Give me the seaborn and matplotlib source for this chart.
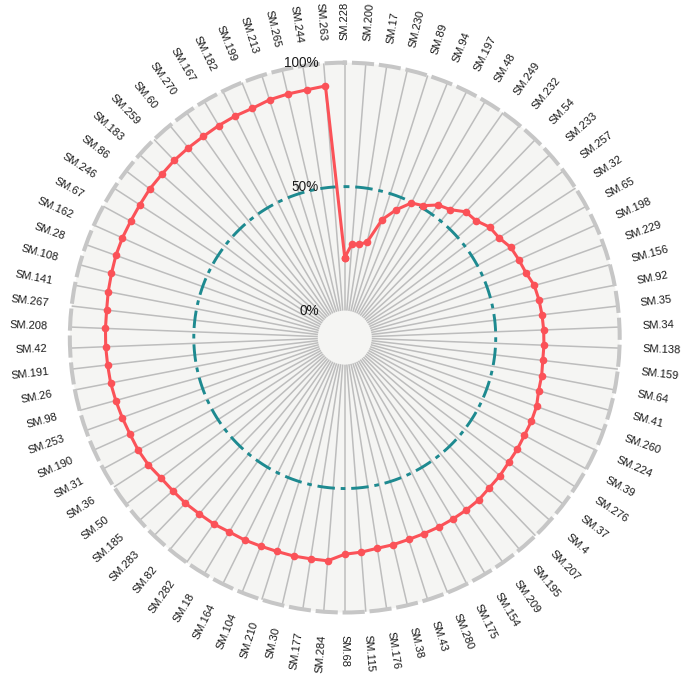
import numpy as np
import pandas as pd
import seaborn as sns
import matplotlib.pyplot as plt
from matplotlib.patches import Circle
from matplotlib.transforms import offset_copy

# ---------- data (clockwise from the top) ----------
samples = ["SM.228", "SM.200", "SM.17", "SM.230", "SM.89", "SM.94", "SM.197", "SM.48",
           "SM.249", "SM.232", "SM.54", "SM.233", "SM.257", "SM.32", "SM.65", "SM.198",
           "SM.229", "SM.156", "SM.92", "SM.35", "SM.34", "SM.138", "SM.159", "SM.64",
           "SM.41", "SM.260", "SM.224", "SM.39", "SM.276", "SM.37", "SM.4", "SM.207",
           "SM.195", "SM.209", "SM.154", "SM.175", "SM.280", "SM.43", "SM.38", "SM.176",
           "SM.115", "SM.68", "SM.284", "SM.177", "SM.30", "SM.210", "SM.104", "SM.164",
           "SM.18", "SM.282", "SM.82", "SM.283", "SM.185", "SM.50", "SM.36", "SM.31",
           "SM.190", "SM.253", "SM.98", "SM.26", "SM.191", "SM.42", "SM.208", "SM.267",
           "SM.141", "SM.108", "SM.28", "SM.162", "SM.67", "SM.246", "SM.86", "SM.183",
           "SM.259", "SM.60", "SM.270", "SM.167", "SM.182", "SM.199", "SM.213", "SM.265",
           "SM.244", "SM.263"]

cum_share = [0.214, 0.270, 0.271, 0.287, 0.390, 0.447, 0.497, 0.510, 0.545, 0.560,
             0.595, 0.600, 0.626, 0.632, 0.653, 0.660, 0.667, 0.684, 0.689, 0.692,
             0.694, 0.695, 0.695, 0.700, 0.702, 0.713, 0.716, 0.716, 0.720, 0.722,
             0.729, 0.732, 0.740, 0.742, 0.743, 0.744, 0.744, 0.745, 0.749, 0.751,
             0.759, 0.765, 0.794, 0.794, 0.796, 0.796, 0.798, 0.802, 0.803, 0.810,
             0.813, 0.818, 0.820, 0.824, 0.835, 0.840, 0.841, 0.845, 0.849, 0.853,
             0.854, 0.856, 0.857, 0.858, 0.863, 0.867, 0.872, 0.874, 0.874, 0.876,
             0.880, 0.880, 0.883, 0.883, 0.883, 0.886, 0.888, 0.888, 0.897, 0.900,
             0.902, 0.909]

r_ticks = [0, 0.5, 1.0]
r_labels = ["0%", "50%", "100%"]

RED = "#FB5258"
TEAL = "#1E8A90"
PANEL = "#F5F5F3"
HOLE = 0.109

plt.rcParams["font.family"] = ["Liberation Sans", "DejaVu Sans"]

n = len(samples)
theta = np.arange(n) * 2 * np.pi / n
df = pd.DataFrame({"theta": theta, "value": cum_share, "sample": samples})
# close the loop back to the first sample
df_loop = pd.concat([df, df.iloc[[0]].assign(theta=2 * np.pi)], ignore_index=True)

fig = plt.figure(figsize=(6.85, 6.78), dpi=100)
ax = fig.add_axes([0.1018, 0.0966, 0.803, 0.811], projection="polar")
ax.set_theta_zero_location("N")
ax.set_theta_direction(-1)
ax.set_facecolor(PANEL)

# fill the centre hole with the panel colour
ax.add_patch(Circle((0.5, 0.5), 0.5 * HOLE / (1 + HOLE) + 0.002, transform=ax.transAxes,
                    facecolor=PANEL, edgecolor="none", clip_on=False, zorder=0.2))

# 50% reference ring
ring = np.linspace(0, 2 * np.pi, 400)
ax.plot(ring, np.full_like(ring, 0.5), color=TEAL, lw=2.1,
        linestyle=(0, (1.6, 2.0, 6.0, 2.0)), zorder=2)

sns.lineplot(data=df_loop, x="theta", y="value", ax=ax, sort=False, estimator=None,
             color=RED, lw=2.2, marker="o", markersize=5.5, markeredgewidth=0, zorder=3)

ax.set_ylim(0, 1.0)
ax.set_rorigin(-HOLE)
ax.set_xticks(theta)
ax.set_xticklabels([])
ax.set_yticks(r_ticks)
ax.set_yticklabels([])
ax.xaxis.grid(True, color="#BDBDBD", lw=1.1)
ax.yaxis.grid(False)
ax.tick_params(length=0)
ax.set_xlabel("")
ax.set_ylabel("")

ax.spines["polar"].set_color("#C6C6C6")
ax.spines["polar"].set_linewidth(2.9)
ax.spines["polar"].set_linestyle((0, (4.5, 2.2)))
# polar draw() re-enables the inner spine, so make it invisible by style
ax.spines["inner"].set_color("none")
ax.spines["inner"].set_linewidth(0)

# radial labels, just left of the top spoke
trans = offset_copy(ax.transData, fig=fig, x=-26, y=0, units="dots")
for r, lab in zip(r_ticks, r_labels):
    ax.text(0, r, lab, transform=trans, ha="right", va="center", fontsize=9.8,
            color="#1a1a1a", zorder=5)

# sample labels, rotated along the spokes
for t, lab in zip(theta, samples):
    deg = np.degrees(t)
    if deg <= 180:
        rot, ha = 90 - deg, "left"
    else:
        rot, ha = 270 - deg, "right"
    ax.text(t, 1.092, lab, rotation=rot, rotation_mode="anchor", ha=ha, va="center",
            fontsize=8, color="#1a1a1a")

plt.savefig("out.png", dpi=100)
